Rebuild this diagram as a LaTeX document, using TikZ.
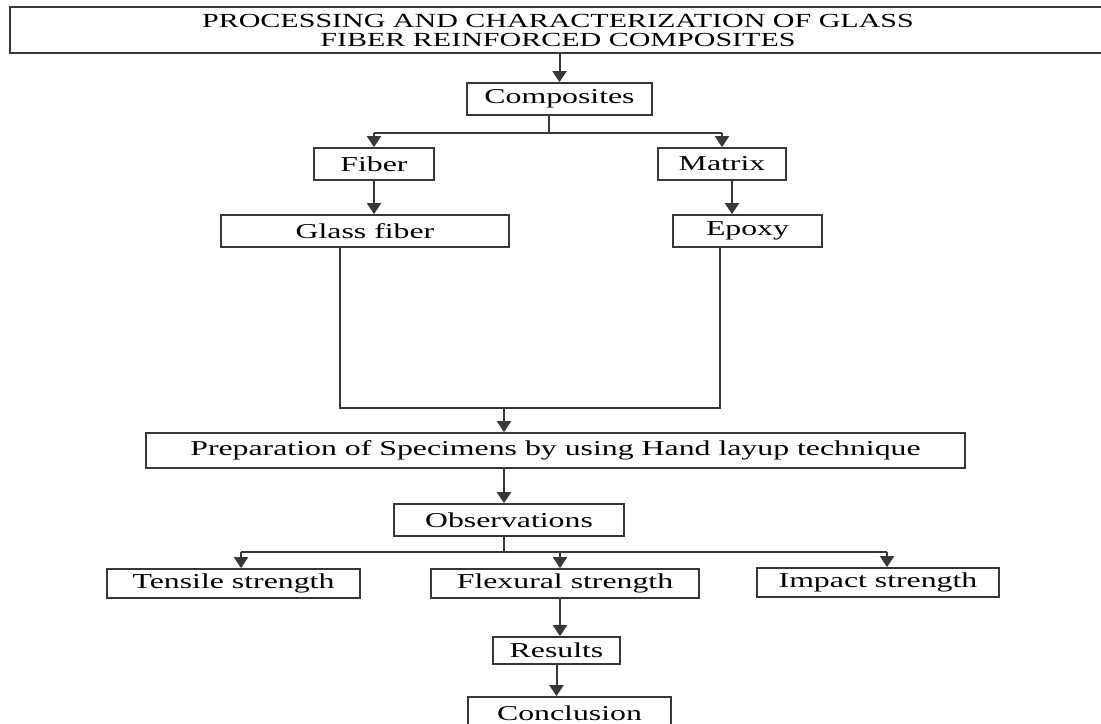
\documentclass[tikz,border=0pt]{standalone}
\usepackage{fontspec}
\setmainfont{Liberation Serif}[FakeStretch=1.5]
\usepackage{xcolor}
\definecolor{linegray}{RGB}{55,55,55}
\usetikzlibrary{arrows.meta}

\begin{document}
\begin{tikzpicture}[x=0.5pt,y=-0.5pt,
box/.style={draw=linegray,line width=0.9pt,inner sep=0pt,minimum height=16pt,align=center,font=\fontsize{10.6}{10}\selectfont},
arrow/.style={-{Triangle[length=5.5pt,width=7pt]},line width=1pt,draw=linegray},
link/.style={line width=1pt,draw=linegray}]
\useasboundingbox (0,0) rectangle (1101,723);
% boxes
\node[box,minimum width=548pt,minimum height=23pt,font=\fontsize{10}{9.5}\selectfont] (title) at (558,30) {PROCESSING AND CHARACTERIZATION OF GLASS\\FIBER REINFORCED COMPOSITES};
\node[box,minimum width=92.5pt] (comp) at (559.5,99) {Composites};
\node[box,minimum width=60pt] (fiber) at (374,164) {Fiber};
\node[box,minimum width=64pt] (matrix) at (722,164) {Matrix};
\node[box,minimum width=144pt] (glass) at (365,231) {Glass fiber};
\node[box,minimum width=74.5pt] (epoxy) at (747.5,231) {Epoxy};
\node[box,minimum width=409.5pt,minimum height=17.5pt] (prep) at (555.5,450.5) {Preparation of Specimens by using Hand layup technique};
\node[box,minimum width=115pt] (obs) at (509,520) {Observations};
\node[box,minimum width=126.5pt,minimum height=14.5pt] (tensile) at (233.5,583.5) {Tensile strength};
\node[box,minimum width=134pt,minimum height=14.5pt] (flex) at (565,583.5) {Flexural strength};
\node[box,minimum width=121pt,minimum height=14.5pt] (impact) at (878,582.5) {Impact strength};
\node[box,minimum width=63.5pt,minimum height=13.5pt] (results) at (556.5,650.5) {Results};
\node[box,minimum width=101.5pt,minimum height=16.5pt] (concl) at (569.5,713.5) {Conclusion};
% branch points
\coordinate (forkA) at (549,133);
\coordinate (joinL) at (340,408);
\coordinate (joinR) at (720,408);
\coordinate (merge) at (504,408);
\coordinate (forkT) at (241,552);
\coordinate (forkF) at (560,552);
\coordinate (forkI) at (887,552);
% connectors
\draw[arrow] (title.south -| comp) -- (comp.north);
\draw[link] (comp.south -| forkA) -- (forkA);
\draw[link] (forkA -| fiber) -- (forkA -| matrix);
\draw[arrow] (forkA -| fiber) -- (fiber.north);
\draw[arrow] (forkA -| matrix) -- (matrix.north);
\draw[arrow] (fiber.south) -- (fiber.south |- glass.north);
\draw[arrow] ([xshift=5pt]matrix.south) -- ([xshift=5pt]matrix.south |- epoxy.north);
\draw[link] (glass.south -| joinL) -- (joinL) -- (joinR) -- (epoxy.south -| joinR);
\draw[arrow] (merge) -- (merge |- prep.north);
\draw[arrow] (prep.south -| merge) -- (merge |- obs.north);
\draw[link] (obs.south -| merge) -- (merge |- forkT);
\draw[link] (forkT) -- (forkI);
\foreach \c/\n in {forkT/tensile,forkF/flex,forkI/impact}
  \draw[arrow] (\c) -- (\c |- \n.north);
\draw[arrow] (flex.south -| forkF) -- (forkF |- results.north);
\draw[arrow] (results.south) -- (results.south |- concl.north);
\end{tikzpicture}
\end{document}
